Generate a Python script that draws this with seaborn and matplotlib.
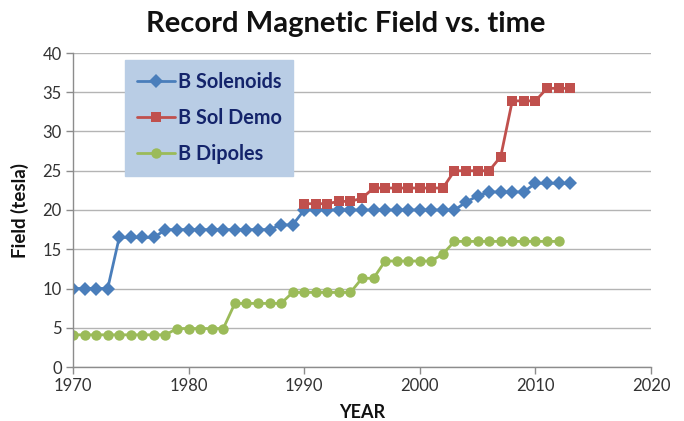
import matplotlib
matplotlib.use("Agg")
import matplotlib.pyplot as plt
import seaborn as sns
import pandas as pd

# Record fields (tesla) by year
sol_years = list(range(1970, 2014))
sol_field = [10, 10, 10, 10,
             16.5, 16.5, 16.5, 16.5,
             17.5, 17.5, 17.5, 17.5, 17.5, 17.5, 17.5, 17.5, 17.5, 17.5,
             18.1, 18.1,
             20, 20, 20, 20, 20, 20, 20, 20, 20, 20, 20, 20, 20, 20,
             21.0, 21.8, 22.3, 22.3, 22.3, 22.3,
             23.4, 23.4, 23.4, 23.4]

demo_years = list(range(1990, 2014))
demo_field = [20.8, 20.8, 20.8, 21.1, 21.1, 21.5,
              22.8, 22.8, 22.8, 22.8, 22.8, 22.8, 22.8,
              25.0, 25.0, 25.0, 25.0, 26.8,
              33.9, 33.9, 33.9,
              35.5, 35.5, 35.5]

dip_years = list(range(1970, 2013))
dip_field = [4.1, 4.1, 4.1, 4.1, 4.1, 4.1, 4.1, 4.1, 4.1,
             4.9, 4.9, 4.9, 4.9, 4.9,
             8.1, 8.1, 8.1, 8.1, 8.1,
             9.5, 9.5, 9.5, 9.5, 9.5, 9.5,
             11.3, 11.3,
             13.5, 13.5, 13.5, 13.5, 13.5,
             14.4,
             16, 16, 16, 16, 16, 16, 16, 16, 16, 16]

series_names = ["B Solenoids", "B Sol Demo", "B Dipoles"]
x_ticks = [1970, 1980, 1990, 2000, 2010, 2020]
y_ticks = [0, 5, 10, 15, 20, 25, 30, 35, 40]

df = pd.concat([
    pd.DataFrame({"year": sol_years, "field": sol_field, "series": series_names[0]}),
    pd.DataFrame({"year": demo_years, "field": demo_field, "series": series_names[1]}),
    pd.DataFrame({"year": dip_years, "field": dip_field, "series": series_names[2]}),
])

sns.set_theme(style="white")
plt.rcParams["font.family"] = ["Lato", "DejaVu Sans"]

colors = {"B Solenoids": "#4a7ebb", "B Sol Demo": "#c0504d", "B Dipoles": "#9bbb59"}
markers = {"B Solenoids": "D", "B Sol Demo": "s", "B Dipoles": "o"}
msizes = {"B Solenoids": 7.5, "B Sol Demo": 6.5, "B Dipoles": 7.5}

fig = plt.figure(figsize=(6.84, 4.21), dpi=100)
ax = fig.add_axes([73 / 684, 1 - 367 / 421, 578 / 684, 314 / 421])

for name in series_names:
    sub = df[df["series"] == name]
    sns.lineplot(data=sub, x="year", y="field", ax=ax, color=colors[name],
                 marker=markers[name], markersize=msizes[name],
                 markeredgewidth=0, linewidth=2.0, label=name)

ax.set_xlim(1970, 2020)
ax.set_ylim(0, 40)
ax.set_xticks(x_ticks)
ax.set_yticks(y_ticks)
ax.yaxis.grid(True, color="#b4b4b4", linewidth=1.0)
ax.xaxis.grid(False)
ax.set_axisbelow(True)
for side in ["top", "right"]:
    ax.spines[side].set_visible(False)
for side in ["left", "bottom"]:
    ax.spines[side].set_color("#8c8c8c")
    ax.spines[side].set_linewidth(1.0)
ax.tick_params(axis="both", which="major", direction="out", length=5,
               width=1.0, color="#8c8c8c", labelsize=12, labelcolor="#333333",
               bottom=True, left=True, pad=3)

ax.set_xlabel("YEAR", fontsize=13, fontweight="bold", color="#111111", labelpad=7)
ax.set_ylabel("Field (tesla)", fontsize=13.5, fontweight="bold", color="#111111", labelpad=10)

fig.suptitle("Record Magnetic Field vs. time", x=0.505, y=0.975,
             fontsize=21, fontweight="bold", color="#111111")

leg = ax.legend(loc="upper left", bbox_to_anchor=(0.09, 0.978), borderaxespad=0,
                frameon=True, fancybox=False, facecolor="#b9cde5", edgecolor="#b9cde5",
                framealpha=1.0, fontsize=14.3, labelspacing=0.82, handlelength=1.9,
                handletextpad=0.15, borderpad=0.6)
for t in leg.get_texts():
    t.set_color("#14246b")
    t.set_fontweight("bold")

fig.savefig("out.png", dpi=100)
